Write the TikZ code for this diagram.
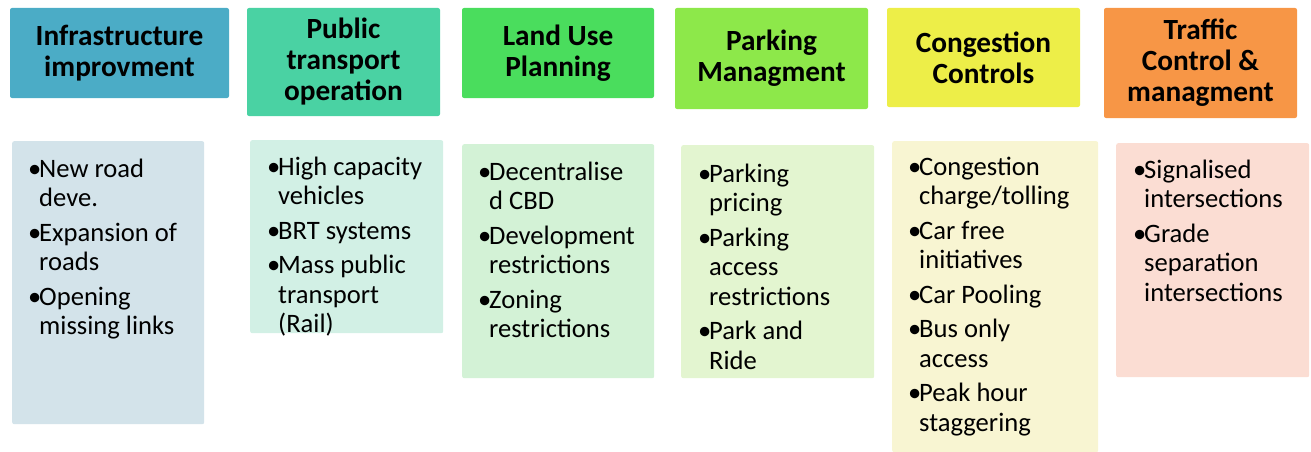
\documentclass[tikz,border=0pt]{standalone}
\usepackage{fontspec}
\setmainfont{Carlito}
% header fills
\definecolor{hInfra}{HTML}{4BACC6}
\definecolor{hPublic}{HTML}{4AD2A3}
\definecolor{hLand}{HTML}{4ADD5D}
\definecolor{hPark}{HTML}{8DE84A}
\definecolor{hCong}{HTML}{EDEE48}
\definecolor{hTraffic}{HTML}{F79646}
% panel fills
\definecolor{pInfra}{HTML}{D3E3EA}
\definecolor{pPublic}{HTML}{D2F0E5}
\definecolor{pLand}{HTML}{D3F2D6}
\definecolor{pPark}{HTML}{E3F5D0}
\definecolor{pCong}{HTML}{F8F5D2}
\definecolor{pTraffic}{HTML}{FBDDD3}
% one bulleted entry with a hanging indent, closed by its own \par
\newcommand\bitem[1]{\hangindent=11pt\hangafter=1\noindent\makebox[11pt][l]{•}#1\par}
\begin{document}
\begin{tikzpicture}[x=1pt,y=-1pt,
  natspace/.style={execute at begin node={\spaceskip=0pt\xspaceskip=0pt}},
  head/.style={natspace, rounded corners=2pt, inner sep=0pt, align=center,
    font=\fontsize{29.3}{31}\selectfont\bfseries},
  panel/.style={rounded corners=2pt, inner sep=0pt, anchor=north west},
  items/.style={natspace, anchor=base west, inner sep=0pt, text width=220pt, align=left,
    font=\fontsize{26.6}{29.5}\selectfont\setlength\parskip{5pt}}]
\useasboundingbox (0,0) rectangle (1311,452);

% column headers
\node[head, fill=hInfra, minimum width=219pt, minimum height=90pt] (h1) at (119.5,53) {Infrastructure\\improvment};
\node[head, fill=hPublic, minimum width=193pt, minimum height=108pt] (h2) at (343.5,62) {Public\\transport\\operation};
\node[head, fill=hLand, minimum width=192pt, minimum height=90pt] (h3) at (558,53) {Land Use\\Planning};
\node[head, fill=hPark, minimum width=193pt, minimum height=101pt] (h4) at (771.5,58.5) {Parking\\Managment};
\node[head, fill=hCong, minimum width=193pt, minimum height=99pt] (h5) at (983.5,57.5) {Congestion\\Controls};
\node[head, fill=hTraffic, minimum width=193pt, minimum height=110pt] (h6) at (1200.5,63) {Traffic\\Control \&\\managment};

% measure panels
\node[panel, fill=pInfra, minimum width=192pt, minimum height=283pt] (p1) at (12,141) {};
\node[panel, fill=pPublic, minimum width=193pt, minimum height=193pt] (p2) at (250,140) {};
\node[panel, fill=pLand, minimum width=192pt, minimum height=234pt] (p3) at (462,144) {};
\node[panel, fill=pPark, minimum width=193pt, minimum height=233pt] (p4) at (681,145) {};
\node[panel, fill=pCong, minimum width=206pt, minimum height=311pt] (p5) at (892,141) {};
\node[panel, fill=pTraffic, minimum width=193pt, minimum height=234pt] (p6) at (1116,143) {};

% bullet lists
\node[items] (t1) at (28,177) {\bitem{New road\newline deve.}\bitem{Expansion of\newline roads}\bitem{Opening\newline missing links}};
\node[items] (t2) at (267,175) {\bitem{High capacity\newline vehicles}\bitem{BRT systems}\bitem{Mass public\newline transport\newline (Rail)}};
\node[items] (t3) at (478,180) {\bitem{Decentralise\newline d CBD}\bitem{Development\newline restrictions}\bitem{Zoning\newline restrictions}};
\node[items] (t4) at (698,182) {\bitem{Parking\newline pricing}\bitem{Parking\newline access\newline restrictions}\bitem{Park and\newline Ride}};
\node[items] (t5) at (908,175) {\bitem{Congestion\newline charge/tolling}\bitem{Car free\newline initiatives}\bitem{Car Pooling}\bitem{Bus only\newline access}\bitem{Peak hour\newline staggering}};
\node[items] (t6) at (1133,178) {\bitem{Signalised\newline intersections}\bitem{Grade\newline separation\newline intersections}};
\end{tikzpicture}
\end{document}
